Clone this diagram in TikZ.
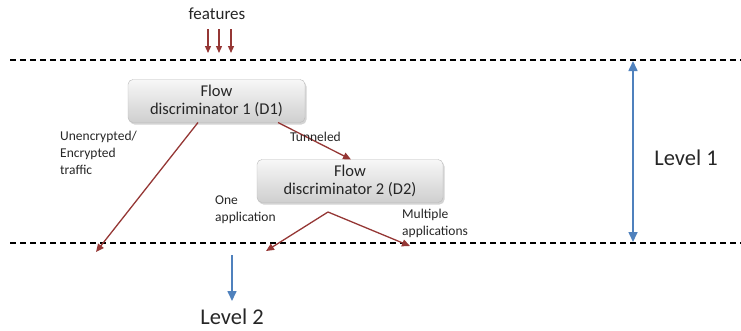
\documentclass[tikz,border=0pt]{standalone}
\usepackage{fontspec}
\setmainfont{Carlito}
\usetikzlibrary{arrows.meta,shadows}
\definecolor{darkred}{HTML}{953735}
\definecolor{lblue}{HTML}{4F81BD}
\begin{document}
\begin{tikzpicture}[x=1pt,y=-1pt,
  disc/.style={draw=gray!55, rounded corners=5pt, top color=gray!6, bottom color=gray!38,
     drop shadow={shadow xshift=1.5pt,shadow yshift=-2pt,opacity=0.35},
     minimum width=#1, minimum height=43pt, align=center, font=\fontsize{16.5}{18}\selectfont, inner sep=0pt, text=black!85},
  redarr/.style={draw=darkred, line width=1.3pt, -{Triangle[length=8pt,width=7pt]}},
  bluearr/.style={draw=lblue, line width=1.6pt},
  level/.style={line width=1.1pt, dash pattern=on 6pt off 4pt},
  small/.style={font=\fontsize{13.5}{17}\selectfont, align=left, text=black!85, inner sep=0pt},
  big/.style={font=\fontsize{22.5}{24}\selectfont, text=black!85, inner sep=0pt}]
\useasboundingbox (0,0) rectangle (741,330);
% dashed levels
\coordinate (t1) at (10,60); \coordinate (t2) at (741,60);
\coordinate (b1) at (10,243); \coordinate (b2) at (741,243);
\draw[level] (t1) -- (t2);
\draw[level] (b1) -- (b2);
% features
\node[font=\fontsize{17}{19}\selectfont, text=black!85, inner sep=0pt] (feat) at (217,14) {features};
\foreach \x/\n in {208/a,219/b,231/c}{
  \coordinate (fs\n) at (\x,29); \coordinate (fe\n) at (\x,53);
  \draw[draw=darkred, line width=1.3pt, -{Triangle[length=7pt,width=6pt]}] (fs\n) -- (fe\n);
}
% boxes
\node[disc=177pt] (d1) at (216.5,101) {Flow\\discriminator 1 (D1)};
\node[disc=186pt] (d2) at (350,181) {Flow\\discriminator 2 (D2)};
% connectors
\coordinate (d1a) at (198,122.5);
\coordinate (d1b) at (278,122.5);
\coordinate (u) at (96,252);
\coordinate (d2top) at (351,159.5);
\coordinate (d2s) at (328,212);
\coordinate (oneend) at (266,251);
\coordinate (mulend) at (410,246);
\draw[redarr] (d1a) -- (u);
\draw[redarr] (d1b) -- (d2top);
\draw[redarr] (d2s) -- (oneend);
\draw[redarr] (d2s) -- (mulend);
% labels
\node[small, anchor=north west] (lu) at (60,131) {Unencrypted/\\Encrypted\\traffic};
\node[small, anchor=west] (lt) at (290,137) {Tunneled};
\node[small, anchor=north west] (lo) at (215,196) {One\\application};
\node[small, anchor=north west] (lm) at (402,209) {Multiple\\applications};
% level arrows
\coordinate (l1t) at (633,61); \coordinate (l1b) at (633,242);
\draw[bluearr, {Triangle[length=10pt,width=9pt]}-{Triangle[length=10pt,width=9pt]}] (l1t) -- (l1b);
\node[big] (lev1) at (686,158) {Level 1};
\coordinate (l2t) at (232,255); \coordinate (l2b) at (232,301);
\draw[bluearr, -{Triangle[length=10pt,width=9pt]}] (l2t) -- (l2b);
\node[big] (lev2) at (232,317) {Level 2};
\end{tikzpicture}
\end{document}
